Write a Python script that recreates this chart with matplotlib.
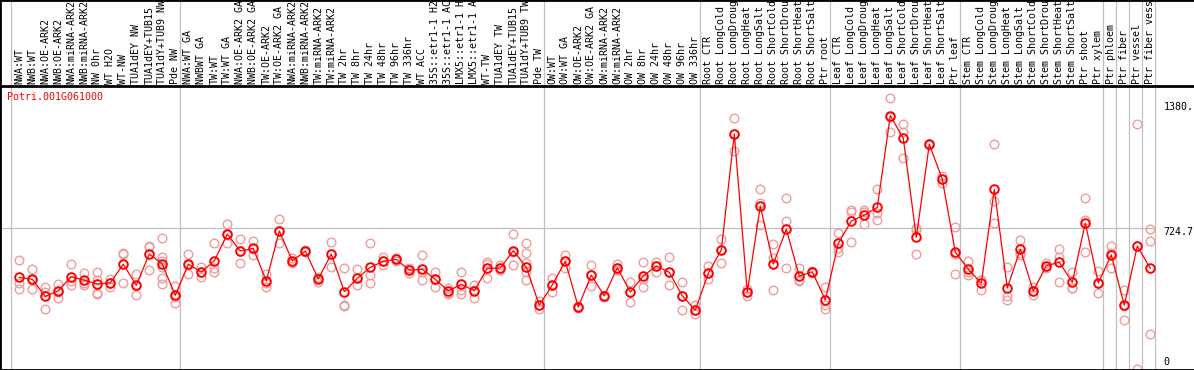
import matplotlib
matplotlib.use('Agg')
import matplotlib.pyplot as plt
from matplotlib.transforms import blended_transform_factory

labels = [
    "NWA:WT", "NWB:WT", "NWA:OE-ARK2", "NWB:OE-ARK2", "NWA:miRNA-ARK2", "NWB:miRNA-ARK2",
    "NW 0hr", "WT H2O", "WT-NW", "TUA1dEY NW", "TUA1dEY+TUB15", "TUA1dY+TUB9 NW", "Pde NW",
    "NWA:WT GA", "NWBWT GA", "TW:WT", "TW:WT GA", "NWA:OE-ARK2 GA", "NWB:OE-ARK2 GA",
    "TW:OE-ARK2", "TW:OE-ARK2 GA", "NWA:miRNA-ARK2", "NWB:miRNA-ARK2", "TW:miRNA-ARK2",
    "TW:miRNA-ARK2", "TW 2hr", "TW 8hr", "TW 24hr", "TW 48hr", "TW 96hr", "TW 336hr",
    "WT ACC", "35S::etr1-1 H2", "35S::etr1-1 AC", "LMX5::etr1-1 H", "LMX5::etr1-1 A",
    "WT-TW", "TUA1dEY TW", "TUA1dEY+TUB15", "TUA1dY+TUB9 TW", "Pde TW",
    "OW:WT", "OW:WT GA", "OW:OE-ARK2", "OW:OE-ARK2 GA", "OW:miRNA-ARK2", "OW:miRNA-ARK2",
    "OW 2hr", "OW 8hr", "OW 24hr", "OW 48hr", "OW 96hr", "OW 336hr",
    "Root CTR", "Root LongCold", "Root LongDroug", "Root LongHeat", "Root LongSalt",
    "Root ShortCold", "Root ShortDrou", "Root ShortHeat", "Root ShortSalt", "Ptr root",
    "Leaf CTR", "Leaf LongCold", "Leaf LongDroug", "Leaf LongHeat", "Leaf LongSalt",
    "Leaf ShortCold", "Leaf ShortDrou", "Leaf ShortHeat", "Leaf ShortSalt", "Ptr leaf",
    "Stem CTR", "Stem LongCold", "Stem LongDroug", "Stem LongHeat", "Stem LongSalt",
    "Stem ShortCold", "Stem ShortDrou", "Stem ShortHeat", "Stem ShortSalt", "Ptr shoot",
    "Ptr xylem", "Ptr phloem", "Ptr fiber", "Ptr vessel", "Ptr fiber vess",
]

means = [
    471, 461, 373, 401, 475, 456, 437, 443, 539, 430, 592, 540, 378,
    539, 499, 556, 695, 607, 621, 452, 711, 556, 607, 463, 592, 397, 466, 523, 554, 564,
    508, 513, 461, 401, 435, 402, 518, 519, 609, 523, 327,
    432, 554, 318, 483, 375, 521, 395, 478, 530, 497, 376, 302,
    492, 613, 1212, 395, 840, 540, 720, 477, 500, 354,
    647, 762, 793, 833, 1307, 1190, 678, 1159, 978, 601,
    513, 440, 926, 416, 616, 401, 531, 549, 446, 751,
    442, 587, 327, 633, 518,
]

replicates = [
    [561, 440, 409], [514, 457, 409], [420, 395, 308], [437, 398, 366],
    [540, 452, 430], [495, 442, 433], [499, 457, 389, 385], [464, 442, 420],
    [599, 590, 440], [488, 426, 378], [635, 630, 509], [675, 578, 557, 526, 466, 437],
    [425, 372, 339], [592, 537, 488], [526, 499, 475], [647, 518, 499],
    [747, 692, 647], [668, 607, 547], [657, 619, 587], [487, 442, 423],
    [773, 709, 650], [570, 553, 544], [613, 607, 602], [471, 468, 449],
    [654, 594, 523], [518, 330, 325], [513, 466, 430], [649, 483, 440],
    [578, 554, 535], [571, 564, 556], [518, 509, 495], [587, 499, 457],
    [500, 461, 420], [418, 392, 384], [499, 406, 387], [433, 406, 363],
    [552, 540, 469], [535, 519, 509], [694, 602, 535], [649, 595, 547, 500, 457],
    [349, 327, 308], [466, 432, 397], [588, 554, 518], [323, 318, 313],
    [535, 483, 426], [380, 375, 370], [540, 519, 509], [447, 395, 344],
    [552, 461, 423], [552, 530, 500], [578, 497, 432], [447, 376, 302],
    [328, 302, 282], [531, 492, 461], [668, 613, 544], [1295, 1212, 1126],
    [411, 395, 375], [928, 857, 742], [644, 571, 406], [881, 762, 518],
    [518, 457, 454], [504, 500, 496], [423, 328, 306], [699, 621, 604],
    [819, 810, 655], [819, 808, 745], [927, 805, 766], [1398, 1300, 1224],
    [1264, 1221, 1087], [728, 716, 592], [1163, 1159, 1155], [995, 978, 960],
    [730, 592, 488], [554, 500, 483], [457, 457, 406], [1160, 867, 754],
    [526, 375, 354], [664, 599, 585], [423, 401, 378], [544, 531, 518],
    [619, 578, 447], [500, 418, 415], [880, 768, 601], [504, 442, 390],
    [633, 595, 518], [406, 325, 251], [1262, 635, 0], [720, 657, 177],
]

group_starts = [0, 13, 41, 53, 63, 73, 84, 85, 86, 87, 88]
gene_name = "Potri.001G061000"
ytick_values = [1380, 724.7, 0]
ytick_texts = ["1380.", "724.7", "0"]
grid_value = 724.7

# ---- layout (pixels) ----
W, H = 1194, 370
TOP = 86
X0, DX = 19.3, 13.0
Y0PIX, SCALE = 368.5, 5.169
MONO = "DejaVu Sans Mono"
FS = 7.2
GRID = "#c0c0c0"
RED = "#ff0000"
PINK = "#f09c9c"

fig = plt.figure(figsize=(W / 100, H / 100), dpi=100)
xl = ((0 - X0) / DX, (W - X0) / DX)

ax = fig.add_axes([0, 0, 1, (H - TOP) / H])
ax.set_xlim(*xl)
ax.set_ylim((Y0PIX - H) * SCALE, (Y0PIX - TOP) * SCALE)
ax.set_xticks([]); ax.set_yticks([])
for s in ["top", "right"]:
    ax.spines[s].set_visible(False)
ax.spines["left"].set_linewidth(2)
ax.spines["bottom"].set_linewidth(2)

axl = fig.add_axes([0, (H - TOP) / H, 1, TOP / H])
axl.set_xlim(*xl)
axl.set_ylim(TOP, 0)
axl.set_xticks([]); axl.set_yticks([])
axl.spines["right"].set_visible(False)
for s in ["top", "bottom", "left"]:
    axl.spines[s].set_linewidth(2)

seps = [g - 0.62 for g in group_starts]
for s in seps:
    ax.axvline(s, color=GRID, lw=0.9, zorder=1)
    axl.axvline(s, color=GRID, lw=0.9, zorder=1)

ax.plot([xl[0], seps[-1]], [grid_value, grid_value], color=GRID, lw=0.9, zorder=1)

xs = list(range(len(labels)))
rx, ry = [], []
for i, r in enumerate(replicates):
    for v in r:
        rx.append(i); ry.append(v)
ax.plot(rx, ry, ls="none", marker="o", ms=6.2, mfc="none", mec=PINK, mew=1.0, zorder=2)
ax.plot(xs, means, color=RED, lw=0.9, zorder=3)
ax.plot(xs, means, ls="none", marker="o", ms=6.2, mfc="none", mec=RED, mew=1.4, zorder=4)

for i, lab in enumerate(labels):
    axl.text(i, 84.5, lab, rotation=90, ha="center", va="bottom",
             family=MONO, fontsize=FS, color="black")

fig.text(7 / W, 1 - 97 / H, gene_name, color=RED, family=MONO, fontsize=FS,
         ha="left", va="center")

ytick_pix = [107.3, 232.3, 361.7]
for t, yp in zip(ytick_texts, ytick_pix):
    fig.text(1163.5 / W, 1 - yp / H, t, family=MONO, fontsize=FS, color="black",
             ha="left", va="center")

fig.savefig("out.png", dpi=100)
